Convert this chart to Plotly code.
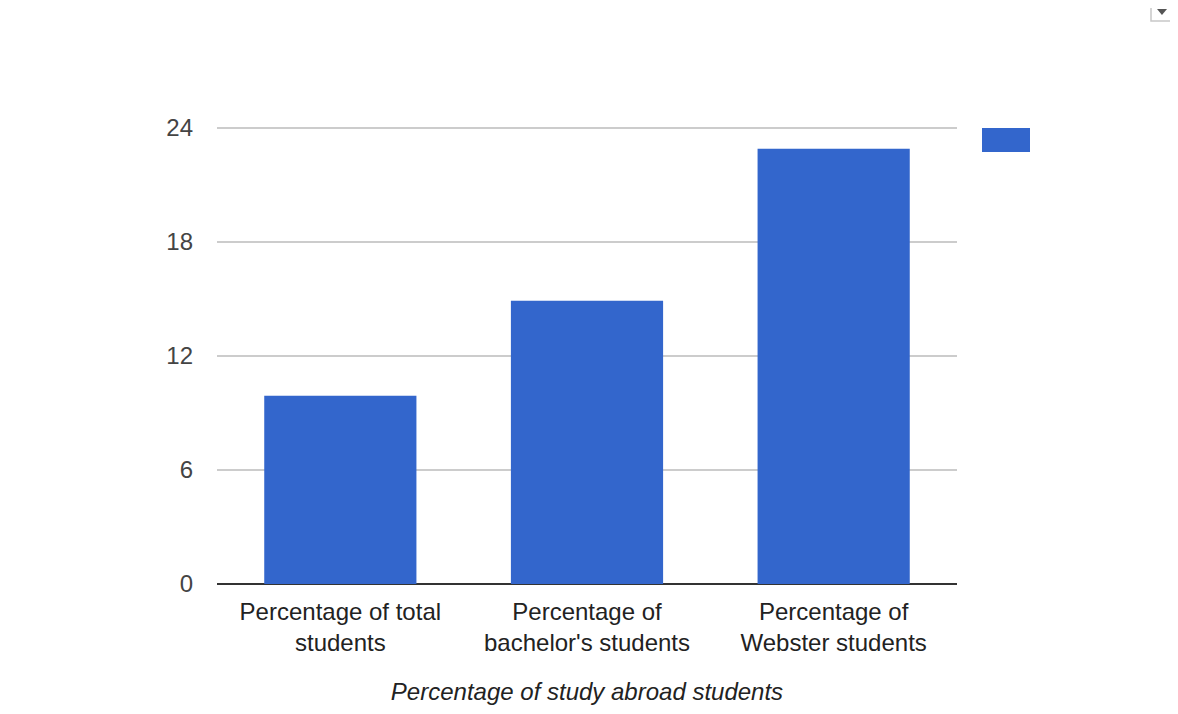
import plotly.graph_objects as go

categories = ["Percentage of total<br>students",
              "Percentage of<br>bachelor's students",
              "Percentage of<br>Webster students"]
values = [9.9, 14.9, 22.9]
y_ticks = [0, 6, 12, 18, 24]
x_title = "Percentage of study abroad students"

BLUE = "#3366cc"
FONT = "Liberation Sans, Arial, sans-serif"

# page body has an 8px margin, so the figure is offset by 8px; compensate here
OFF = 8
Y_TOP = 24.1
PL, PR, PB = 217, 957, 584            # plot area edges in page pixels
PX_PER_UNIT = (584 - 128) / 24.0
PT = PB - PX_PER_UNIT * Y_TOP          # top so that 24 sits at page y=128


def px(x):
    return (x - PL) / (PR - PL)


def py(y):
    return (PB - y) / (PB - PT)


fig = go.Figure(go.Bar(x=categories, y=values, marker_color=BLUE,
                       marker_line_width=0, showlegend=False))

tri = "M {:.4f} {:.4f} L {:.4f} {:.4f} L {:.4f} {:.4f} Z".format(
    px(1157), py(9), px(1167), py(9), px(1162), py(15))

fig.update_layout(
    width=1178, height=714,
    margin=dict(l=PL - OFF, r=1178 + OFF - PR, t=PT - OFF, b=714 + OFF - PB),
    paper_bgcolor="white", plot_bgcolor="white",
    bargap=0.383,
    font=dict(family=FONT, size=24, color="#222222"),
    xaxis=dict(
        showgrid=False, showline=False, zeroline=False,
        ticks="outside", ticklen=6, tickcolor="rgba(0,0,0,0)",
        tickfont=dict(size=24, color="#222222"),
        title=dict(text=x_title, standoff=28,
                   font=dict(size=24, color="#222222", family=FONT, style="italic")),
    ),
    yaxis=dict(
        range=[0, Y_TOP], tickvals=y_ticks, ticktext=[str(v) for v in y_ticks],
        showgrid=True, gridcolor="#cccccc", gridwidth=1.5,
        zeroline=True, zerolinecolor="#333333", zerolinewidth=2,
        showline=False, ticks="", ticklabelstandoff=23,
        tickfont=dict(size=24, color="#444444"),
    ),
    shapes=[
        # legend swatch
        dict(type="rect", xref="paper", yref="paper",
             x0=px(982), x1=px(1030), y0=py(152), y1=py(128),
             fillcolor=BLUE, line=dict(width=0)),
        # dropdown button box
        dict(type="rect", xref="paper", yref="paper",
             x0=px(1151), x1=px(1176), y0=py(21), y1=py(-5),
             fillcolor="white", line=dict(color="#c8c8c8", width=1.5)),
        # dropdown triangle
        dict(type="path", xref="paper", yref="paper", path=tri,
             fillcolor="#555555", line=dict(width=0)),
    ],
)

fig.write_html("out.html")
